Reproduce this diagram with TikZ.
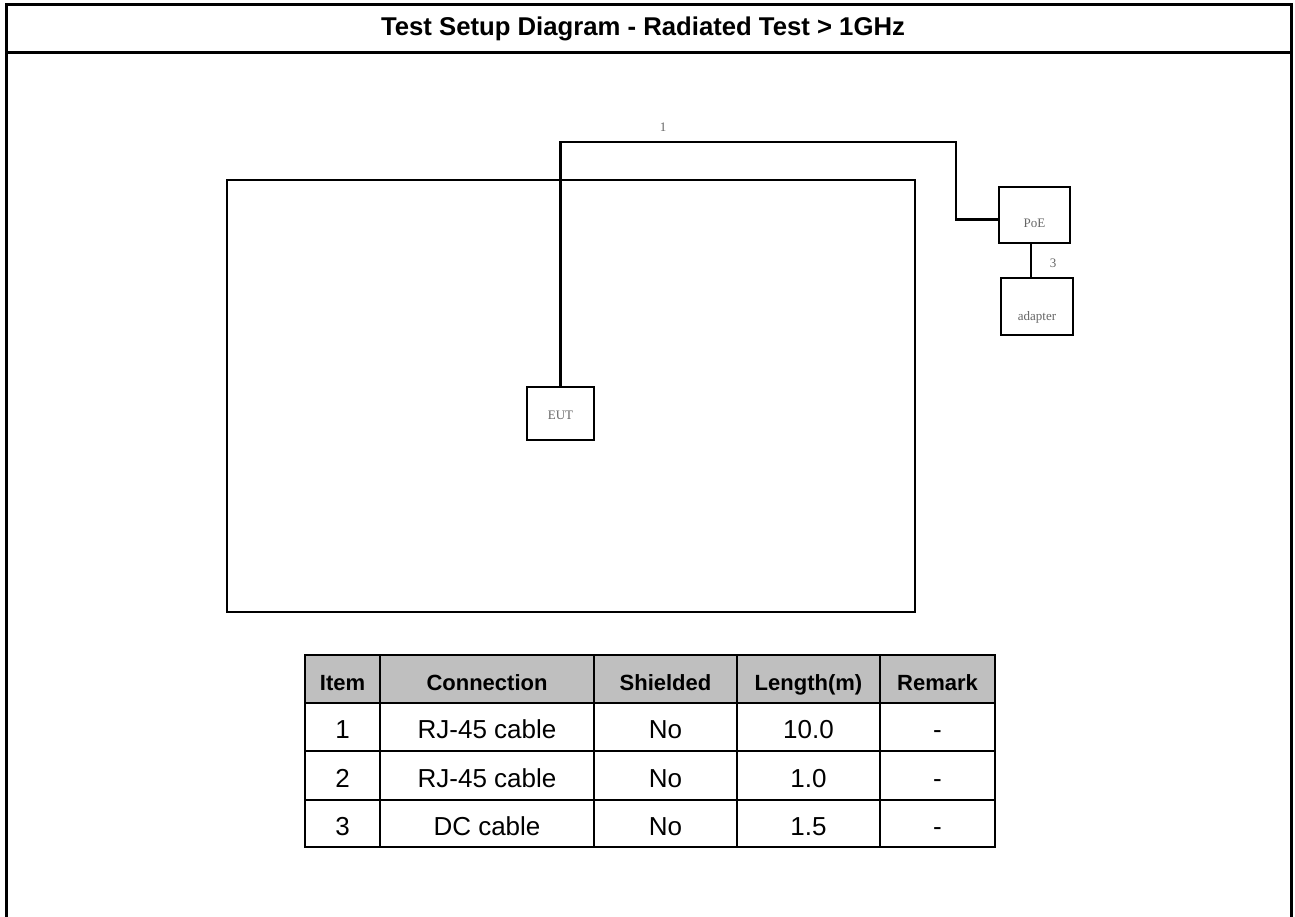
\documentclass[tikz,border=0pt]{standalone}
\usepackage{fontspec}
\setmainfont{Liberation Sans}
\newfontfamily\lblfont{Liberation Serif}
\usetikzlibrary{calc,positioning}
\tikzstyle{unit}=[draw,line width=2.8pt,inner sep=0,outer sep=0]
\tikzstyle{cable}=[line width=2.6pt]
\tikzstyle{tag}=[font=\lblfont\fontsize{13}{13}\selectfont,text=black!60,inner sep=0,anchor=base]
\tikzstyle{grid}=[line width=2.8pt]

\begin{document}
\begin{tikzpicture}[
    x=1pt,y=-1pt,
    % hdr/.style={font=\bfseries},
    hdr/.style={font=\bfseries\fontsize{22}{22}\selectfont,anchor=base,inner sep=0},
    cell/.style={font=\fontsize{26}{26}\selectfont,anchor=base,inner sep=0}
    ]
    \useasboundingbox (0,0) rectangle (1295,917);

    % frame and title
    \draw [line width=3.5pt] (6.5,917) -- (6.5,4.7) -- (1291.5,4.7) -- (1291.5,917);
    \draw [line width=2.6pt] (6.5,52.5) -- (1291.5,52.5);
    \node [font=\bfseries\fontsize{25.7}{26}\selectfont,anchor=base] (title) at (643,36)
      {Test Setup Diagram - Radiated Test > 1GHz};

    % chamber
    \node [draw,line width=2.7pt,inner sep=0,minimum width=688,minimum height=432] (room) at (571,396) {};

    % equipment
    \node [unit,minimum width=67,minimum height=53] (EUT) at (560.5,413.5) {};
    \node [unit,minimum width=71,minimum height=56] (PoE) at (1034.5,215) {};
    \node [unit,minimum width=72,minimum height=57,below=35pt of PoE,xshift=2.5pt] (adapter) {};
    \node [tag] (eutlbl) at ([yshift=-5.5pt]EUT.center) {EUT};
    \node [tag] (poelbl) at ([yshift=-13pt]PoE.center) {PoE};
    \node [tag] (adplbl) at ([yshift=-13.5pt]adapter.center) {adapter};

    % cables
    \coordinate (bend1) at (956,142);
    \draw [cable] (EUT.north) |- (bend1) |- ([yshift=-4.5pt]PoE.west);
    \draw [cable] ([xshift=-3.5pt]PoE.south) -- ([xshift=-3.5pt]PoE.south |- adapter.north);
    \node [tag] (c1) at (663,132) {1};
    \node [tag] (c3) at (1053,268) {3};

    % table
    \fill [gray!50] (305,655) rectangle (995,703);
    \draw [grid] (305,655) rectangle (995,847);
    \foreach \y in {703,751,800} {
      \draw [grid] (305,\y) -- (995,\y);
    }
    \foreach \x in {380,594,737,880} {
      \draw [grid] (\x,655) -- (\x,847);
    }
    \foreach \x/\t [count=\i] in {342.5/Item,487/Connection,665.5/Shielded,808.5/Length(m),937.5/Remark} {
      \node [hdr] (hd\i) at (\x,690) {\t};
    }
    \foreach \y/\a/\b/\c/\d [count=\i] in {738/1/RJ-45 cable/No/10.0,787/2/RJ-45 cable/No/1.0,835/3/DC cable/No/1.5} {
      \node [cell] (it\i) at (342.5,\y) {\a};
      \node [cell] (cn\i) at (487,\y) {\b};
      \node [cell] (sh\i) at (665.5,\y) {\c};
      \node [cell] (ln\i) at (808.5,\y) {\d};
      \node [cell] (rm\i) at (937.5,\y) {-};
    }
  \end{tikzpicture}
\end{document}
